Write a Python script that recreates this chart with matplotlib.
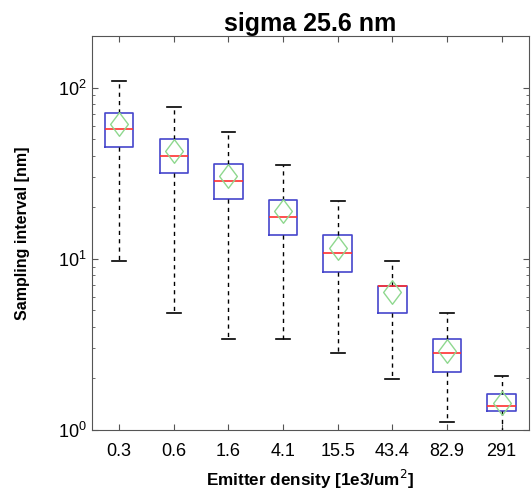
import matplotlib
matplotlib.use("Agg")
import matplotlib.pyplot as plt
from matplotlib.path import Path
from matplotlib.ticker import LogLocator, NullFormatter

plt.rcParams["font.family"] = ["Liberation Sans", "DejaVu Sans"]

densities = ["0.3", "0.6", "1.6", "4.1", "15.5", "43.4", "82.9", "291"]
whisker_low = [9.7, 4.85, 3.42, 3.42, 2.81, 1.98, 1.11, 0.9]
box_low = [45.0, 31.7, 22.3, 13.8, 8.4, 4.81, 2.17, 1.29]
medians = [57.6, 40.0, 28.3, 17.5, 10.8, 6.9, 2.81, 1.39]
means = [61.0, 42.4, 30.3, 19.1, 11.5, 6.38, 2.89, 1.44]
box_high = [71.0, 50.0, 35.6, 22.2, 13.7, 6.92, 3.42, 1.62]
whisker_high = [110.0, 77.0, 55.0, 35.3, 21.7, 9.7, 4.85, 2.06]

stats = []
for i, label in enumerate(densities):
    stats.append({
        "label": label,
        "whislo": whisker_low[i],
        "q1": box_low[i],
        "med": medians[i],
        "mean": means[i],
        "q3": box_high[i],
        "whishi": whisker_high[i],
        "fliers": [],
    })

# tall open diamond, like matlab's mean marker
diamond = Path([(0, 1), (0.75, 0), (0, -1), (-0.75, 0), (0, 1)],
               [Path.MOVETO, Path.LINETO, Path.LINETO, Path.LINETO, Path.CLOSEPOLY])

fig = plt.figure(figsize=(5.31, 4.90), dpi=100)
ax = fig.add_axes([0.173, 0.1224, 0.823, 0.804])

positions = list(range(1, len(densities) + 1))
ax.bxp(
    stats,
    positions=positions,
    widths=0.52,
    capwidths=0.25,
    showmeans=True,
    showfliers=False,
    boxprops=dict(color="#4646cc", linewidth=1.2),
    medianprops=dict(color="#ff3030", linewidth=1.2),
    whiskerprops=dict(color="black", linestyle=(0, (3, 3)), linewidth=1.0),
    capprops=dict(color="black", linewidth=1.2),
    meanprops=dict(marker=diamond, markersize=17, markerfacecolor="none",
                   markeredgecolor="#8fd88f", markeredgewidth=1.0),
)

ax.set_yscale("log")
ax.set_ylim(1, 200)
ax.set_xlim(0.5, len(densities) + 0.5)
ax.yaxis.set_major_locator(LogLocator(base=10, numticks=10))
ax.yaxis.set_minor_locator(LogLocator(base=10, subs=range(2, 10), numticks=10))
ax.yaxis.set_minor_formatter(NullFormatter())

ax.set_xticks(positions)
ax.set_xticklabels(densities)
ax.tick_params(axis="both", which="both", direction="in", top=True, right=True,
               color="#555555", labelsize=13)
ax.tick_params(axis="both", which="major", length=4)
ax.tick_params(axis="y", which="minor", length=2.5)
ax.tick_params(axis="x", which="major", pad=9)
for spine in ax.spines.values():
    spine.set_color("#555555")

ax.set_title("sigma 25.6 nm", fontsize=18, fontweight="bold", pad=3)
ax.set_xlabel("Emitter density [1e3/um$^2$]", fontsize=12.3, fontweight="bold",
              labelpad=6)
ax.set_ylabel("Sampling interval [nm]", fontsize=11.5, fontweight="bold",
              labelpad=20)

fig.savefig("out.png", dpi=100)
